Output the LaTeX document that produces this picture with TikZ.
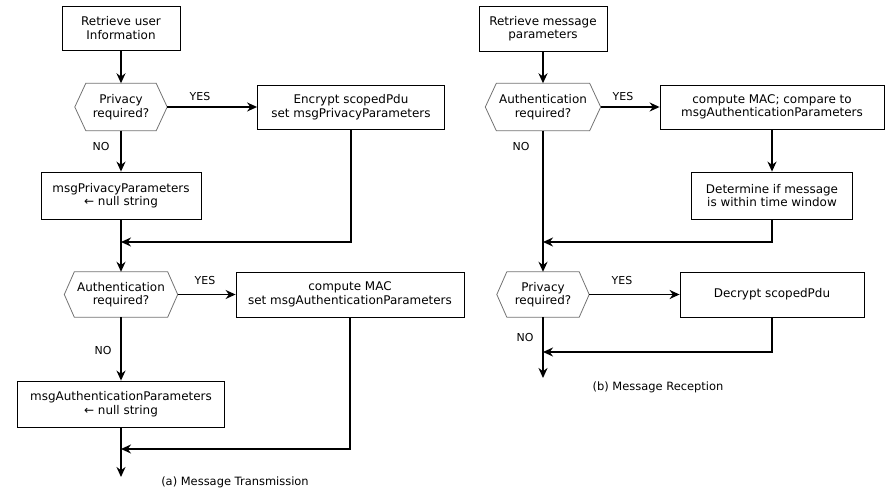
\documentclass[tikz,border=0pt]{standalone}
\usepackage{fontspec}
\setmainfont{DejaVu Sans}
\usetikzlibrary{arrows.meta}

% hexagonal decision outline around a named node
\newcommand{\decisionoutline}[2]{%
  \draw[hexline] ([xshift=#2]#1.north west) -- ([xshift=-#2]#1.north east)
    -- (#1.east) -- ([xshift=-#2]#1.south east)
    -- ([xshift=#2]#1.south west) -- (#1.west) -- cycle;}

\tikzset{
  box/.style={draw=black, line width=0.8bp, fill=white, align=center,
    inner sep=0pt, font=\fontsize{12}{13.5}\selectfont},
  decision/.style={align=center, inner sep=0pt,
    font=\fontsize{12}{13.5}\selectfont},
  hexline/.style={draw=black!55, line width=0.8bp},
  flow/.style={line width=1.6bp, -{Stealth[length=10bp,width=9bp]}},
  lbl/.style={inner sep=0pt, font=\fontsize{11}{13}\selectfont},
  caption/.style={inner sep=0pt, font=\fontsize{11.5}{13.5}\selectfont},
}

\begin{document}
\begin{tikzpicture}[x=1bp, y=-1bp]
\useasboundingbox (0,0) rectangle (892,491);

% ---------------- (a) Message Transmission ----------------
\node[box, minimum width=118bp, minimum height=44bp] (ruser) at (121,28) {Retrieve user\\Information};
\node[decision, minimum width=92bp, minimum height=47bp] (privq) at (121,107) {Privacy\\required?};
\decisionoutline{privq}{11bp}
\node[box, minimum width=187bp, minimum height=44bp] (encrypt) at (351,107) {Encrypt scopedPdu\\set msgPrivacyParameters};
\node[box, minimum width=160bp, minimum height=47bp] (privnull) at (121,195.5) {msgPrivacyParameters\\← null string};
\node[decision, minimum width=113bp, minimum height=45bp] (authq) at (121,294.5) {Authentication\\required?};
\decisionoutline{authq}{10bp}
\node[box, minimum width=228bp, minimum height=45bp] (mac) at (350,294.5) {compute MAC\\set msgAuthenticationParameters};
\node[box, minimum width=207bp, minimum height=46bp] (authnull) at (121,404) {msgAuthenticationParameters\\← null string};

\coordinate (joinA1) at (121,242);
\coordinate (joinA2) at (121,449);
\coordinate (endA) at (121,477);

\draw[flow] (ruser) -- (privq);
\draw[flow] (privq) -- (encrypt);
\draw[flow] (privq) -- (privnull);
\draw[flow] (privnull) -- (authq);
\draw[flow] (encrypt.south) |- (joinA1);
\draw[flow] (authq) -- (mac);
\draw[flow] (authq) -- (authnull);
\draw[flow] (authnull) -- (endA);
\draw[flow] (mac.south) |- (joinA2);

\node[lbl] (yesA1) at (200,97) {YES};
\node[lbl] (noA1) at (101,147) {NO};
\node[lbl] (yesA2) at (205,281) {YES};
\node[lbl] (noA2) at (103,351) {NO};
\node[caption] (capA) at (235,482) {(a) Message Transmission};

% ---------------- (b) Message Reception ----------------
\node[box, minimum width=128bp, minimum height=45bp] (rmsg) at (543,28.5) {Retrieve message\\parameters};
\node[decision, minimum width=115bp, minimum height=47bp] (authr) at (543,107) {Authentication\\required?};
\decisionoutline{authr}{11bp}
\node[box, minimum width=224bp, minimum height=44bp] (cmp) at (772,107) {compute MAC; compare to\\msgAuthenticationParameters};
\node[box, minimum width=161bp, minimum height=47bp] (window) at (772,195.5) {Determine if message\\is within time window};
\node[decision, minimum width=92bp, minimum height=45bp] (privr) at (543,294.5) {Privacy\\required?};
\decisionoutline{privr}{10bp}
\node[box, minimum width=184bp, minimum height=45bp] (decrypt) at (772,294.5) {Decrypt scopedPdu};

\coordinate (joinB1) at (543,242);
\coordinate (joinB2) at (543,352);
\coordinate (endB) at (543,378);

\draw[flow] (rmsg) -- (authr);
\draw[flow] (authr) -- (cmp);
\draw[flow] (cmp) -- (window);
\draw[flow] (window.south) |- (joinB1);
\draw[flow] (authr) -- (privr);
\draw[flow] (privr) -- (decrypt);
\draw[flow] (privr) -- (endB);
\draw[flow] (decrypt.south) |- (joinB2);

\node[lbl] (yesB1) at (623,97) {YES};
\node[lbl] (noB1) at (521,147) {NO};
\node[lbl] (yesB2) at (622,281) {YES};
\node[lbl] (noB2) at (525,338) {NO};
\node[caption] (capB) at (658,387) {(b) Message Reception};

\end{tikzpicture}
\end{document}
